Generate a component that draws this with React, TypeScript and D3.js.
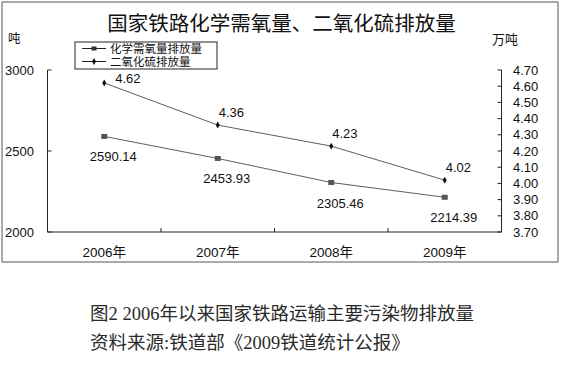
import React from "react";
import * as d3 from "d3";

const categories = ["2006年", "2007年", "2008年", "2009年"];
const codValues = [2590.14, 2453.93, 2305.46, 2214.39];
const so2Values = [4.62, 4.36, 4.23, 4.02];
const leftTicks = [2000, 2500, 3000];
const rightTicks = [3.7, 3.8, 3.9, 4.0, 4.1, 4.2, 4.3, 4.4, 4.5, 4.6, 4.7];
const title = "国家铁路化学需氧量、二氧化硫排放量";
const leftUnit = "吨";
const rightUnit = "万吨";
const legendLabels = ["化学需氧量排放量", "二氧化硫排放量"];
const captionLines = [
  "图2 2006年以来国家铁路运输主要污染物排放量",
  "资料来源:铁道部《2009铁道统计公报》",
];

const W = 563;
const H = 377;
const plot = { left: 47.5, right: 501.5, top: 70, bottom: 232 };
const sans = "'Liberation Sans', Arial, 'Noto Sans CJK SC', sans-serif";
const cjk = "'Noto Sans CJK SC', sans-serif";
const serif = "'Liberation Serif', 'Noto Sans CJK SC', serif";

export default function App() {
  const x = d3
    .scaleBand<string>()
    .domain(categories)
    .range([plot.left, plot.right])
    .padding(0);
  const cx = (c: string) => (x(c) as number) + x.bandwidth() / 2;
  const yL = d3.scaleLinear().domain([2000, 3000]).range([plot.bottom, plot.top]);
  const yR = d3.scaleLinear().domain([3.7, 4.7]).range([plot.bottom, plot.top]);

  const codLine = d3
    .line<number>()
    .x((_, i) => cx(categories[i]))
    .y((d) => yL(d));
  const so2Line = d3
    .line<number>()
    .x((_, i) => cx(categories[i]))
    .y((d) => yR(d));

  const boundaries = categories.map((c) => x(c) as number).concat([plot.right]);
  const diamond = d3.symbol().type(d3.symbolDiamond).size(14)();

  return (
    <div style={{ position: "fixed", left: 0, top: 0 }}>
      <svg width={W} height={H} style={{ display: "block", background: "#fff" }}>
        <rect x={0} y={0} width={W} height={H} fill="#fff" />
        <rect x={2} y={2} width={556} height={260} fill="none" stroke="#8f8f8f" strokeWidth={1.5} />

        <text x={281.5} y={31} textAnchor="middle" fontFamily={cjk} fontSize={20.5} fill="#111">
          {title}
        </text>
        <text x={8} y={43} fontFamily={cjk} fontSize={12.5} fill="#111">
          {leftUnit}
        </text>
        <text x={492} y={44} fontFamily={cjk} fontSize={13} fill="#111">
          {rightUnit}
        </text>

        {/* axes */}
        <g stroke="#222" strokeWidth={1} fill="none">
          <line x1={plot.left} y1={plot.top} x2={plot.left} y2={plot.bottom} />
          <line x1={plot.right} y1={plot.top} x2={plot.right} y2={plot.bottom} />
          <line x1={plot.left} y1={plot.bottom} x2={plot.right} y2={plot.bottom} />
          {leftTicks.map((t) => (
            <line key={"l" + t} x1={plot.left} x2={plot.left + 4} y1={yL(t)} y2={yL(t)} />
          ))}
          {rightTicks.map((t) => (
            <line key={"r" + t} x1={plot.right - 4} x2={plot.right} y1={yR(t)} y2={yR(t)} />
          ))}
          {boundaries.slice(1, -1).map((b, i) => (
            <line key={"b" + i} x1={b} x2={b} y1={plot.bottom} y2={plot.bottom - 4} />
          ))}
        </g>

        {leftTicks.map((t) => (
          <text key={"lt" + t} x={5} y={yL(t) + 4.5} fontFamily={sans} fontSize={13} fill="#111">
            {t}
          </text>
        ))}
        {rightTicks.map((t) => (
          <text key={"rt" + t} x={513} y={yR(t) + 4.5} fontFamily={sans} fontSize={13} fill="#111">
            {t.toFixed(2)}
          </text>
        ))}
        {categories.map((c) => (
          <text key={"c" + c} x={cx(c)} y={257} textAnchor="middle" fontFamily={sans} fontSize={13.5} fill="#111">
            {c}
          </text>
        ))}

        {/* series */}
        <path d={codLine(codValues) || ""} fill="none" stroke="#333" strokeWidth={0.8} />
        <path d={so2Line(so2Values) || ""} fill="none" stroke="#333" strokeWidth={0.8} />
        {codValues.map((v, i) => (
          <rect key={"cm" + i} x={cx(categories[i]) - 3} y={yL(v) - 2.5} width={6} height={5} fill="#555" />
        ))}
        {so2Values.map((v, i) => (
          <path key={"sm" + i} d={diamond || ""} transform={`translate(${cx(categories[i])},${yR(v)})`} fill="#111" />
        ))}
        {codValues.map((v, i) => (
          <text key={"cl" + i} x={cx(categories[i]) + 9} y={yL(v) + 25} textAnchor="middle" fontFamily={sans} fontSize={13} fill="#111">
            {v.toFixed(2)}
          </text>
        ))}
        {so2Values.map((v, i) => (
          <text key={"sl" + i} x={cx(categories[i]) + (i === 0 ? 11 : 1)} y={yR(v) - (i === 0 ? 0 : 8)} fontFamily={sans} fontSize={13} fill="#111">
            {v.toFixed(2)}
          </text>
        ))}

        {/* legend */}
        <rect x={75} y={42} width={142} height={27} fill="#fff" stroke="#222" strokeWidth={1} />
        {legendLabels.map((l, i) => {
          const ly = 48.5 + i * 13;
          return (
            <g key={"lg" + i}>
              <line x1={82} x2={106} y1={ly} y2={ly} stroke="#222" strokeWidth={1} />
              {i === 0 ? (
                <rect x={91.5} y={ly - 2} width={5} height={4} fill="#333" />
              ) : (
                <path d={diamond || ""} transform={`translate(94,${ly})`} fill="#111" />
              )}
              <text x={110} y={ly + 4} fontFamily={cjk} fontSize={11.5} fill="#111">
                {l}
              </text>
            </g>
          );
        })}

        {/* caption */}
        {captionLines.map((l, i) => (
          <text key={"cap" + i} x={90} y={320 + i * 28.5} fontFamily={serif} fontSize={18.5} fill="#2a2a2a">
            {l}
          </text>
        ))}
      </svg>
    </div>
  );
}
